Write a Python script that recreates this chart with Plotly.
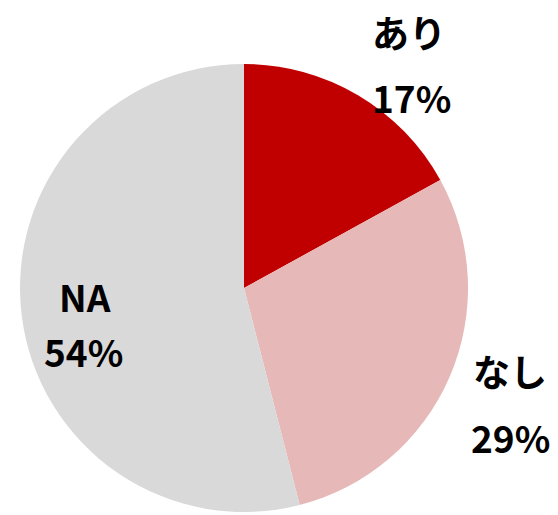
import plotly.graph_objects as go

labels = ["あり", "なし", "NA"]
values = [17, 29, 54]
colors = ["#C00000", "#E6B8B7", "#D9D9D9"]

# page body adds an 8px margin; work in screenshot pixels shifted by OFF
OFF = 8
W, H = 558 - OFF, 515 - OFF
cx, cy, r = 244 - OFF, 288 - OFF, 224

fig = go.Figure(go.Pie(
    labels=labels, values=values, sort=False, direction="clockwise", rotation=0,
    marker=dict(colors=colors, line=dict(width=0)),
    textinfo="none", hoverinfo="label+percent", showlegend=False,
    domain=dict(x=[(cx - r) / W, (cx + r) / W], y=[1 - (cy + r) / H, 1 - (cy - r) / H]),
))

# label positions (screenshot pixel centres) for name line and percentage line
pos = [((409, 32), (411, 97)), ((510, 371), (510, 437)), ((85, 296), (83, 351))]
total = sum(values)
font = dict(family="Noto Sans CJK JP, Noto Sans, sans-serif", size=37, color="black")
for lab, v, ((x1, y1), (x2, y2)) in zip(labels, values, pos):
    fig.add_annotation(text=f"<b>{lab}</b>", x=(x1 - OFF) / W, y=1 - (y1 - OFF) / H,
                       xref="paper", yref="paper", showarrow=False, font=font,
                       xanchor="center", yanchor="middle")
    fig.add_annotation(text=f"<b>{round(100 * v / total)}%</b>", x=(x2 - OFF) / W,
                       y=1 - (y2 - OFF) / H, xref="paper", yref="paper", showarrow=False,
                       font=font, xanchor="center", yanchor="middle")

fig.update_layout(width=W, height=H, margin=dict(l=0, r=0, t=0, b=0),
                  paper_bgcolor="white", plot_bgcolor="white")
fig.write_html("out.html")
